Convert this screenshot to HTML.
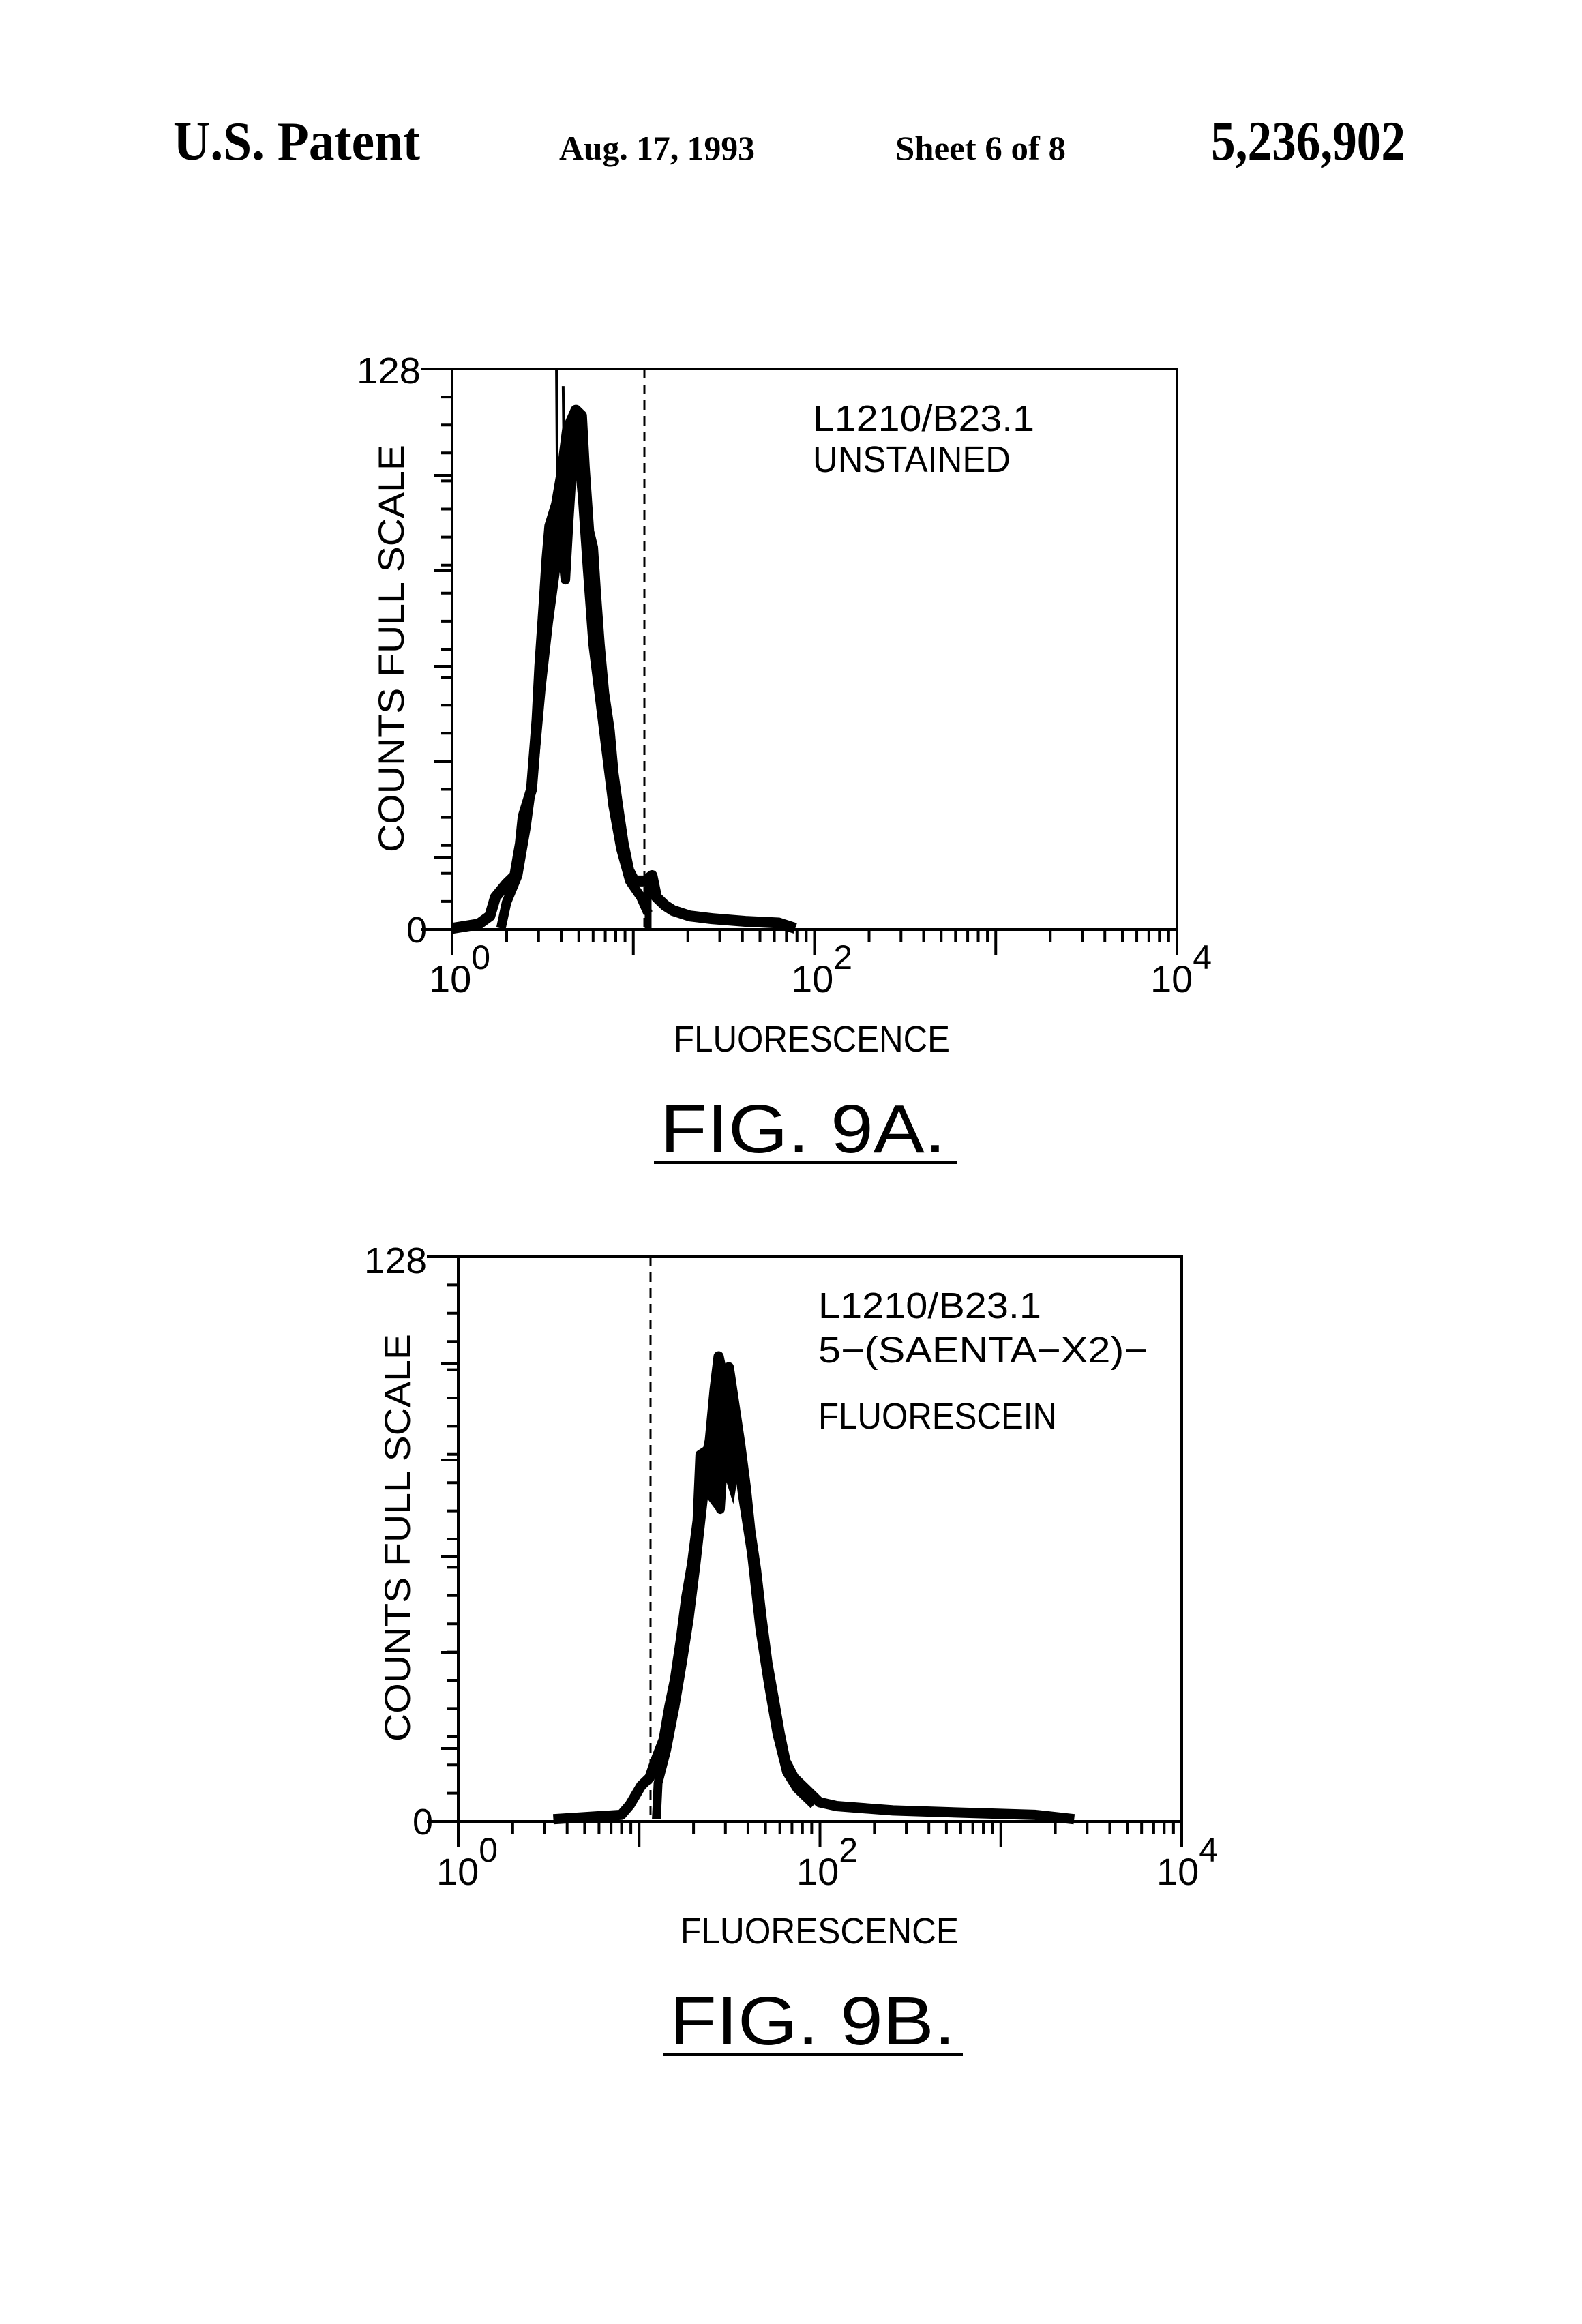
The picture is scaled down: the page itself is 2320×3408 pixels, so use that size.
<!DOCTYPE html>
<html><head><meta charset="utf-8"><style>
html,body{margin:0;padding:0;background:#fff;}
svg{display:block;}
text{font-family:"Liberation Sans",sans-serif;fill:#000;}
.hd{font-family:"Liberation Serif",serif;font-weight:bold;}
</style></head><body>
<svg id="s" xmlns="http://www.w3.org/2000/svg" width="2320" height="3408" viewBox="0 0 2320 3408">
<rect width="2320" height="3408" fill="#fff"/>
<text class="hd" x="254" y="234" font-size="80" textLength="362" lengthAdjust="spacingAndGlyphs">U.S. Patent</text>
<text class="hd" x="820" y="234" font-size="50" textLength="287" lengthAdjust="spacingAndGlyphs">Aug. 17, 1993</text>
<text class="hd" x="1313" y="234" font-size="50" textLength="250" lengthAdjust="spacingAndGlyphs">Sheet 6 of 8</text>
<text class="hd" x="1776" y="234" font-size="82" textLength="285" lengthAdjust="spacingAndGlyphs">5,236,902</text>

<rect x="663" y="541" width="1063" height="822" fill="none" stroke="#000" stroke-width="4"/>
<line x1="617" y1="541" x2="663" y2="541" stroke="#000" stroke-width="4"/>
<line x1="617" y1="1363" x2="663" y2="1363" stroke="#000" stroke-width="4"/>
<line x1="945" y1="541" x2="945" y2="1363" stroke="#000" stroke-width="3" stroke-dasharray="14,9"/>
<g id="ticksA"></g>
<text x="523" y="562" font-size="54" textLength="94" lengthAdjust="spacingAndGlyphs">128</text>
<text x="596" y="1382" font-size="54">0</text>
<text x="629" y="1455" font-size="56">10<tspan font-size="50" dy="-34">0</tspan></text>
<text x="1160" y="1455" font-size="56">10<tspan font-size="50" dy="-34">2</tspan></text>
<text x="1687" y="1455" font-size="56">10<tspan font-size="50" dy="-34">4</tspan></text>
<text x="988" y="1542" font-size="54" textLength="405" lengthAdjust="spacingAndGlyphs">FLUORESCENCE</text>
<text x="968" y="1690" font-size="100" textLength="419" lengthAdjust="spacingAndGlyphs">FIG.  9A.</text>
<line x1="959" y1="1705" x2="1403" y2="1705" stroke="#000" stroke-width="4"/>
<text x="1192" y="632" font-size="54" textLength="325" lengthAdjust="spacingAndGlyphs">L1210/B23.1</text>
<text x="1192" y="692" font-size="54" textLength="290" lengthAdjust="spacingAndGlyphs">UNSTAINED</text>
<text transform="translate(592,951) rotate(-90)" text-anchor="middle" font-size="53" textLength="598" lengthAdjust="spacingAndGlyphs">COUNTS FULL SCALE</text>

<g transform="translate(474,503) scale(0.8145,0.7889)" fill="none" stroke="#000" stroke-linejoin="round">
<path vector-effect="non-scaling-stroke" stroke-width="16" d="M232,1088 L280,1080 L300,1065 L310,1030 L330,1005 L345,990 L355,930 L360,880 L375,830 L385,700 L390,600 L398,480 L403,400 L408,340 L420,300 L430,240 L440,160 L455,125 L465,135 L470,230 L478,350 L485,380 L490,460 L497,560 L505,650 L515,720 L522,800 L530,860 L540,930 L550,980 L560,1000 L580,1000 L592,990 L600,1030 L615,1045 L630,1055 L660,1065 L700,1070 L760,1075 L820,1078 L850,1088"/>
<path vector-effect="non-scaling-stroke" stroke-width="14" d="M320,1088 L330,1040 L350,990 L365,900 L378,800 L392,640 L405,520 L418,420 L428,360 L436,440 L442,330 L450,200 L460,180 L468,300 L476,420 L486,560 L498,660 L510,760 L522,860 L536,940 L552,1000 L572,1030 L585,1060"/>
<path vector-effect="non-scaling-stroke" stroke-width="0" fill="#000" d="M400,420 L420,300 L440,170 L458,125 L468,160 L474,330 L482,420 L470,400 L455,250 L440,350 L430,420 L420,400 Z"/>
<path vector-effect="non-scaling-stroke" stroke-width="4" d="M420,48 L422,340 M432,80 L436,440"/>
<path vector-effect="non-scaling-stroke" stroke-width="10" d="M585,1088 L585,1000"/>
</g>

<rect x="672" y="1843" width="1061" height="828" fill="none" stroke="#000" stroke-width="4"/>
<line x1="626" y1="1843" x2="672" y2="1843" stroke="#000" stroke-width="4"/>
<line x1="626" y1="2671" x2="672" y2="2671" stroke="#000" stroke-width="4"/>
<line x1="954" y1="1843" x2="954" y2="2671" stroke="#000" stroke-width="3" stroke-dasharray="14,9"/>
<g id="ticksB"></g>
<text x="534" y="1867" font-size="54" textLength="92" lengthAdjust="spacingAndGlyphs">128</text>
<text x="605" y="2690" font-size="54">0</text>
<text x="640" y="2764" font-size="56">10<tspan font-size="50" dy="-34">0</tspan></text>
<text x="1168" y="2764" font-size="56">10<tspan font-size="50" dy="-34">2</tspan></text>
<text x="1696" y="2764" font-size="56">10<tspan font-size="50" dy="-34">4</tspan></text>
<text x="998" y="2850" font-size="54" textLength="408" lengthAdjust="spacingAndGlyphs">FLUORESCENCE</text>
<text x="982" y="2998" font-size="100" textLength="419" lengthAdjust="spacingAndGlyphs">FIG.  9B.</text>
<line x1="973" y1="3013" x2="1412" y2="3013" stroke="#000" stroke-width="4"/>
<text x="1200" y="1933" font-size="54" textLength="327" lengthAdjust="spacingAndGlyphs">L1210/B23.1</text>
<text x="1200" y="1998" font-size="54" textLength="483" lengthAdjust="spacingAndGlyphs">5−(SAENTA−X2)−</text>
<text x="1200" y="2095" font-size="54" textLength="350" lengthAdjust="spacingAndGlyphs">FLUORESCEIN</text>
<text transform="translate(601,2255) rotate(-90)" text-anchor="middle" font-size="53" textLength="598" lengthAdjust="spacingAndGlyphs">COUNTS FULL SCALE</text>

<g transform="translate(479.4,1780.4) scale(0.8302,0.8023)" fill="none" stroke="#000" stroke-linejoin="round">
<path vector-effect="non-scaling-stroke" stroke-width="15" d="M400,1106 L520,1098 L535,1080 L555,1045 L570,1030 L580,1000 L595,960 L605,900 L615,850 L625,780 L635,700 L645,640 L655,560 L660,440 L675,430 L685,320 L692,260 L700,300 L710,280 L720,350 L730,420 L740,500 L748,580 L758,650 L768,740 L778,820 L790,890 L800,950 L810,1000 L825,1030 L845,1050 L870,1075 L900,1082 L1000,1090 L1150,1095 L1250,1098 L1320,1106"/>
<path vector-effect="non-scaling-stroke" stroke-width="13" d="M582,1106 L585,1040 L600,980 L615,900 L628,820 L640,740 L652,640 L665,520 L680,460 L695,540 L700,460 L710,330 L722,420 L735,520 L750,620 L765,760 L780,860 L795,950 L812,1020 L830,1050 L860,1080"/>
<path vector-effect="non-scaling-stroke" stroke-width="0" fill="#000" d="M662,440 L690,300 L700,265 L712,290 L732,440 L718,530 L700,470 L690,545 L672,520 Z"/>
<path vector-effect="non-scaling-stroke" stroke-width="4" d="M692,255 L694,420"/>
</g>
</svg>
<script>
(function(){
var NS="http://www.w3.org/2000/svg";
function ln(g,x1,y1,x2,y2,w){var l=document.createElementNS(NS,"line");l.setAttribute("x1",x1);l.setAttribute("y1",y1);l.setAttribute("x2",x2);l.setAttribute("y2",y2);l.setAttribute("stroke","#000");l.setAttribute("stroke-width",w||3);g.appendChild(l);}
function ticks(id,L,T,R,B,longs){
  var g=document.getElementById(id);
  var h=B-T, n=20, i;
  for(i=1;i<n;i++){var y=T+h*i/n;ln(g,L-17,y,L,y,4);}
  longs.forEach(function(y){ln(g,L-26,y,L,y,4);});
  var d=(R-L)/4;
  for(var k=0;k<4;k++){
    for(var m=2;m<=9;m++){var x=L+(k+Math.log10(m))*d;ln(g,x,B,x,B+19,4);}
  }
  for(k=0;k<=4;k++){var x=L+k*d;ln(g,x,B,x,B+37,4);}
}
ticks("ticksA",663,541,1726,1363,[697,837,977,1117,1257]);
ticks("ticksB",672,1843,1733,2671,[2000,2141,2282,2423,2564]);
})();
</script>
</body></html>
